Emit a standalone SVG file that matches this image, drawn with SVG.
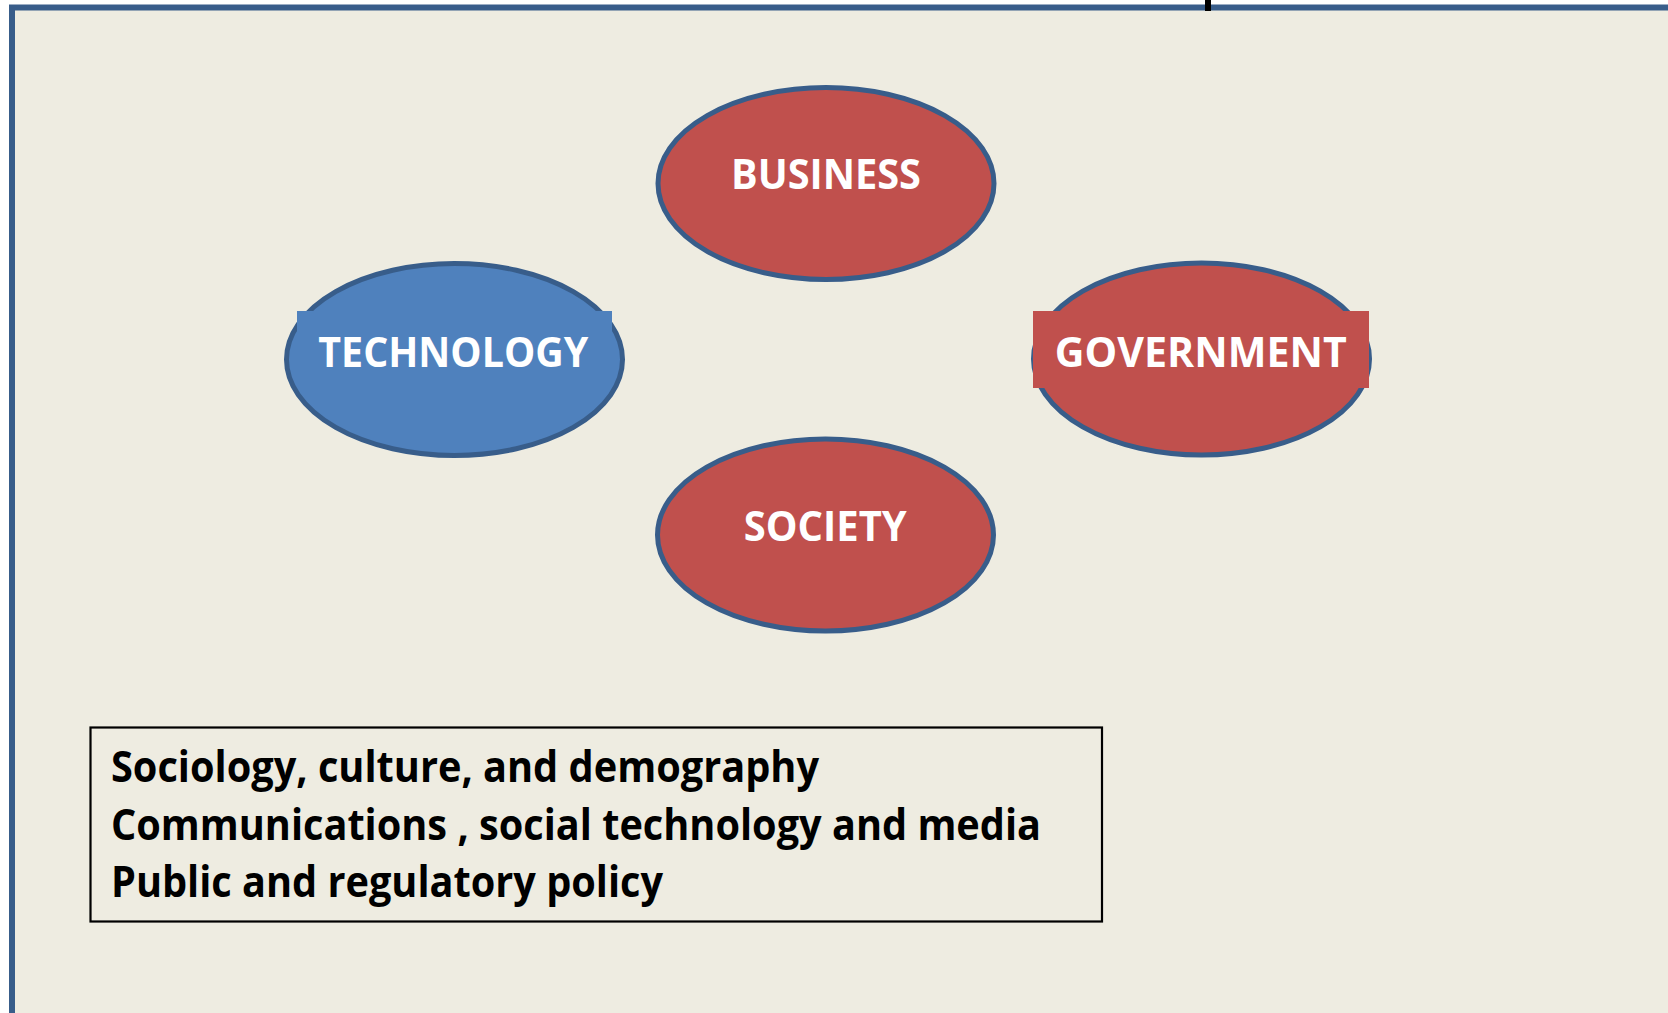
<svg xmlns="http://www.w3.org/2000/svg" width="1668" height="1013" viewBox="0 0 1668 1013">
  <style>
    .oval { stroke: #385D8A; stroke-width: 5; }
    .red { fill: #C0504D; }
    .blue { fill: #4F81BD; }
    .lbl { font-family: "Open Sans", "Liberation Sans", sans-serif; font-weight: 700; font-size: 41px; fill: #FFFFFF; }
    .body { font-family: "Open Sans", "Liberation Sans", sans-serif; font-weight: 700; font-size: 43px; fill: #000000; }
  </style>
  <rect x="0" y="0" width="1668" height="1013" fill="#FFFFFF"/>
  <rect id="frame" x="12" y="7.5" width="1700" height="1100" fill="#EEECE1" stroke="#385D8A" stroke-width="6"/>
  <rect x="1205" y="0" width="6" height="11" fill="#000000"/>

  <g id="connectors"></g>

  <g id="business">
    <ellipse class="oval red" cx="826" cy="183.5" rx="168" ry="96"/>
    <text class="lbl" x="826" y="188.8" text-anchor="middle" textLength="190" lengthAdjust="spacingAndGlyphs">BUSINESS</text>
  </g>

  <g id="technology">
    <ellipse class="oval blue" cx="454.5" cy="359.5" rx="168" ry="96"/>
    <rect class="blue" x="297" y="311" width="315" height="77"/>
    <text class="lbl" x="453.3" y="366.7" text-anchor="middle" textLength="270" lengthAdjust="spacingAndGlyphs">TECHNOLOGY</text>
  </g>

  <g id="government">
    <ellipse class="oval red" cx="1201.5" cy="359" rx="168" ry="96"/>
    <rect class="red" x="1033" y="311" width="336" height="77"/>
    <text class="lbl" x="1200.8" y="366.7" text-anchor="middle" textLength="292" lengthAdjust="spacingAndGlyphs">GOVERNMENT</text>
  </g>

  <g id="society">
    <ellipse class="oval red" cx="825.5" cy="535" rx="168" ry="96"/>
    <text class="lbl" x="825.3" y="541" text-anchor="middle" textLength="163" lengthAdjust="spacingAndGlyphs">SOCIETY</text>
  </g>

  <g id="textbox">
    <rect x="90.5" y="727.5" width="1011.5" height="194" fill="none" stroke="#000000" stroke-width="2.2"/>
    <text class="body" x="111" y="782" textLength="708" lengthAdjust="spacingAndGlyphs">Sociology, culture, and demography</text>
    <text class="body" x="111" y="839.5" textLength="930" lengthAdjust="spacingAndGlyphs">Communications , social technology and media</text>
    <text class="body" x="111" y="896.5" textLength="552" lengthAdjust="spacingAndGlyphs">Public and regulatory policy</text>
  </g>
</svg>
